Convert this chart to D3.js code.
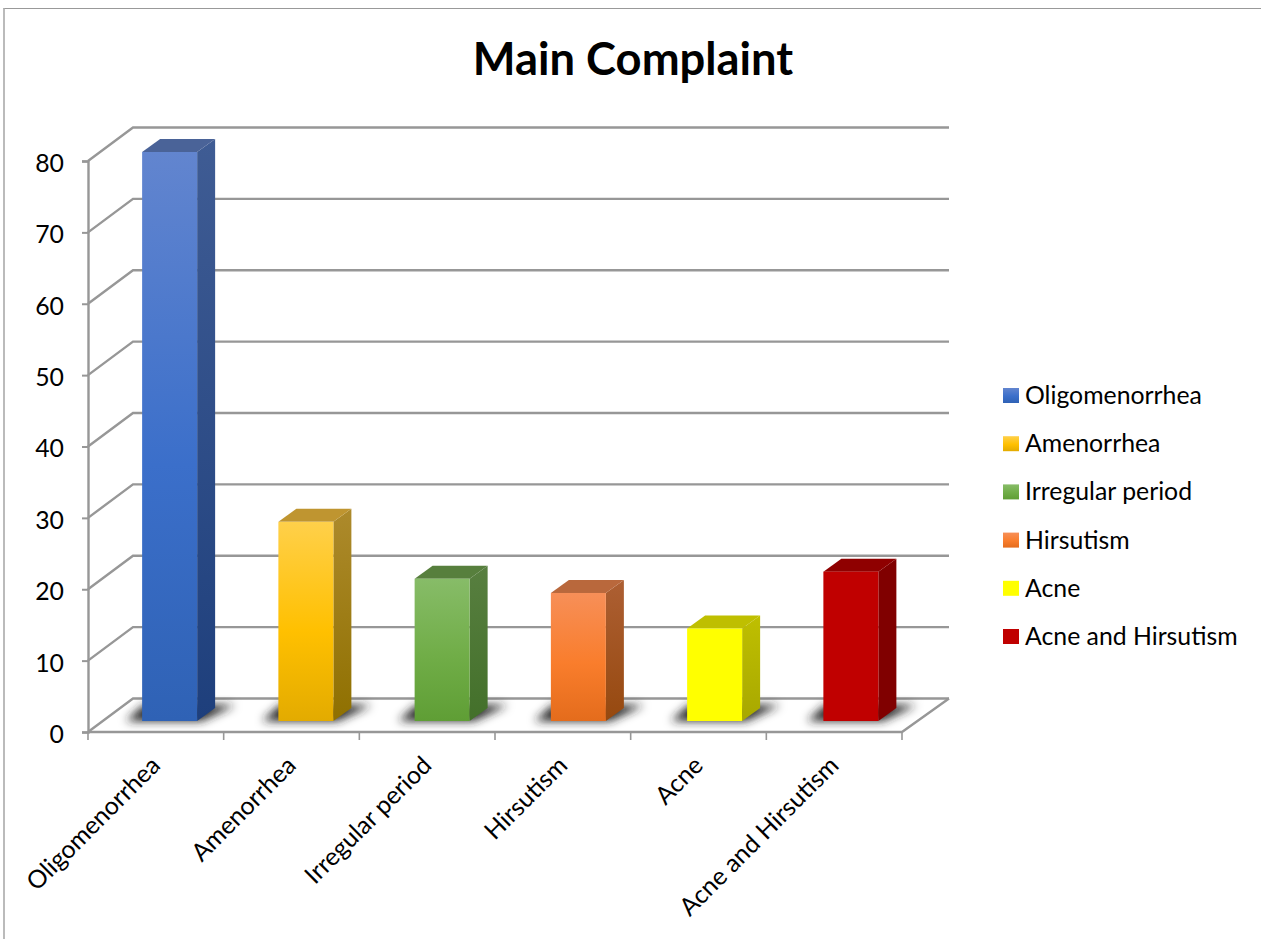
<!DOCTYPE html>
<html>
<head>
<meta charset="utf-8">
<title>Main Complaint</title>
<script src="https://cdn.jsdelivr.net/npm/d3@7"></script>
<style>
    html, body { margin: 0; padding: 0; background: #fff; }
    svg { display: block; }
    text { font-family: Lato, "Open Sans", sans-serif; fill: #000; }
</style>
</head>
<body>
<svg width="1261" height="939"></svg>
<script>
// Values
const chartTitle = "Main Complaint";
const categories = ["Oligomenorrhea", "Amenorrhea", "Irregular period", "Hirsutism", "Acne", "Acne and Hirsutism"];
const complaintValues = [80, 28, 20, 18, 13, 21];
const yTicks = [0, 10, 20, 30, 40, 50, 60, 70, 80];

// Colour scheme, one per category: front gradient stops, side gradient stops, top face
const frontColours = [
    ["#6285cf", "#3b6fca", "#2f62b5"],
    ["#ffd04a", "#ffc000", "#e3ab00"],
    ["#87bc68", "#70ad47", "#5f9e35"],
    ["#f78f58", "#f97d2c", "#e46c1c"],
    ["#ffff00", "#ffff00", "#ffff00"],
    ["#c00000", "#c00000", "#c00000"]
];
const sideColours = [
    ["#3f5c94", "#1e3f7c"],
    ["#ad8a2c", "#8f7000"],
    ["#587f40", "#43702a"],
    ["#ad5f33", "#96490f"],
    ["#bfbf00", "#a8a800"],
    ["#800000", "#800000"]
];
const topColours = ["#4a6398", "#bf9530", "#577f3d", "#b9683c", "#bfbf00", "#8f0000"];

const gridColour = "#979797";

var svg = d3.select("svg");
var defs = svg.append("defs");

// **** Scales ****
var xScale = d3.scaleBand().domain(categories).range([88, 902]);
var yScale = d3.scaleLinear().domain([0, 80]).range([732, 161]);

// The bars stand further back on the floor, so they get their own scales
var barXScale = d3.scaleBand().domain(categories).range([101.5, 919]);
var barYScale = d3.scaleLinear().domain([0, 80]).range([721, 152]);

// Offset of the back wall from the front of the floor
const depthX = 45, depthY = -33.5;
const gridRight = 949;
const barWidth = 55, barDepthX = 18, barDepthY = -13;

// **** Gradients and shadow blur ****
function addGradient(id, stops) {
    var g = defs.append("linearGradient")
        .attr("id", id)
        .attr("x1", 0).attr("y1", 0).attr("x2", 0).attr("y2", 1);
    stops.forEach(function(c, i) {
        var offset = stops.length === 3 ? [0, 0.55, 1][i] : i;
        g.append("stop").attr("offset", offset).attr("stop-color", c);
    });
}
categories.forEach(function(c, i) {
    addGradient("front" + i, frontColours[i]);
    addGradient("side" + i, sideColours[i]);
});
defs.append("filter")
    .attr("id", "shadowBlur")
    .attr("x", "-30%").attr("y", "-60%").attr("width", "160%").attr("height", "220%")
    .append("feGaussianBlur").attr("stdDeviation", 5);

// **** Page frame ****
svg.append("line").attr("x1", 3.5).attr("x2", 1261).attr("y1", 8.5).attr("y2", 8.5)
    .attr("stroke", "#999").attr("stroke-width", 1.2);
svg.append("line").attr("x1", 4).attr("x2", 4).attr("y1", 8).attr("y2", 939)
    .attr("stroke", "#aaa").attr("stroke-width", 1.6);

// **** Title ****
svg.append("text")
    .attr("x", 633).attr("y", 75)
    .attr("text-anchor", "middle")
    .style("font-size", "45.3px").style("font-weight", "bold")
    .text(chartTitle);

// **** Walls and floor ****
var grid = svg.append("g").attr("fill", "none").attr("stroke", gridColour).attr("stroke-width", 2.4);

grid.selectAll(".wall")
    .data(yTicks)
    .enter()
    .append("polyline")
    .attr("class", "wall")
    .attr("points", d => [
        [xScale.range()[0], yScale(d)],
        [xScale.range()[0] + depthX, yScale(d) + depthY],
        [gridRight, yScale(d) + depthY]
    ].join(" "));

// Floor edges
grid.append("polyline")
    .attr("points", [
        [xScale.range()[0], yScale(0)],
        [xScale.range()[1], yScale(0)],
        [gridRight, yScale(0) + depthY]
    ].join(" "));

// **** Y axis ****
var yAxis = svg.append("g")
    .attr("transform", `translate(${xScale.range()[0]},0)`)
    .call(d3.axisLeft(yScale).tickValues(yTicks).tickSize(6).tickPadding(18));
yAxis.selectAll("text").style("font-size", "24.8px").attr("dy", "0.42em");
yAxis.selectAll("line").attr("stroke", gridColour).attr("stroke-width", 2);
yAxis.select(".domain").attr("stroke", gridColour).attr("stroke-width", 2.4);

// **** X axis: ticks sit on the category boundaries, labels are turned 45 degrees ****
svg.append("g").selectAll("line")
    .data(categories.concat([null]))
    .enter()
    .append("line")
    .attr("x1", (d, i) => xScale.range()[0] + i * xScale.step())
    .attr("x2", (d, i) => xScale.range()[0] + i * xScale.step())
    .attr("y1", yScale(0))
    .attr("y2", yScale(0) + 8)
    .attr("stroke", gridColour)
    .attr("stroke-width", 1.6);

var xAxis = svg.append("g")
    .attr("transform", `translate(0,${yScale(0)})`)
    .call(d3.axisBottom(xScale).tickSize(0));
xAxis.select(".domain").remove();
xAxis.selectAll("text")
    .style("font-size", "24.8px")
    .attr("text-anchor", "end")
    .attr("dy", 0)
    .attr("y", 0)
    .attr("transform", "translate(6,35) rotate(-45)");

// **** Bars ****
var barX = d => barXScale(d) + (barXScale.bandwidth() - barWidth) / 2;
var barBase = barYScale(0);

var bars = svg.append("g").selectAll(".barGroup")
    .data(categories)
    .enter()
    .append("g")
    .attr("class", "barGroup");

// Floor shadow behind each bar
bars.append("polygon")
    .attr("points", d => {
        var x = barX(d);
        return [
            [x - 16, barBase],
            [x + barWidth + 4, barBase],
            [x + barWidth + 38, barBase - 16],
            [x + barWidth + 6, barBase - 16],
            [x + 2, barBase - 16]
        ].join(" ");
    })
    .attr("fill", "#222")
    .attr("filter", "url(#shadowBlur)");

// Side face
bars.append("polygon")
    .attr("points", (d, i) => {
        var x = barX(d) + barWidth, t = barYScale(complaintValues[i]);
        return [
            [x, t],
            [x + barDepthX, t + barDepthY],
            [x + barDepthX, barBase + barDepthY],
            [x, barBase]
        ].join(" ");
    })
    .attr("fill", (d, i) => `url(#side${i})`);

// Top face
bars.append("polygon")
    .attr("points", (d, i) => {
        var x = barX(d), t = barYScale(complaintValues[i]);
        return [
            [x, t],
            [x + barDepthX, t + barDepthY],
            [x + barWidth + barDepthX, t + barDepthY],
            [x + barWidth, t]
        ].join(" ");
    })
    .attr("fill", (d, i) => topColours[i]);

// Front face
bars.append("rect")
    .attr("x", d => barX(d))
    .attr("y", (d, i) => barYScale(complaintValues[i]))
    .attr("width", barWidth)
    .attr("height", (d, i) => barBase - barYScale(complaintValues[i]))
    .attr("fill", (d, i) => `url(#front${i})`);

// **** Legend ****
var legendScale = d3.scalePoint().domain(categories).range([396, 637]);

var legendItem = svg.append("g").selectAll("g")
    .data(categories)
    .enter()
    .append("g")
    .attr("transform", d => `translate(1003, ${legendScale(d)})`);

legendItem.append("rect")
    .attr("y", -8)
    .attr("width", 16)
    .attr("height", 15)
    .attr("fill", (d, i) => `url(#front${i})`);

legendItem.append("text")
    .attr("x", 22)
    .attr("y", 8)
    .style("font-size", "24.8px")
    .text(d => d);
</script>
</body>
</html>
